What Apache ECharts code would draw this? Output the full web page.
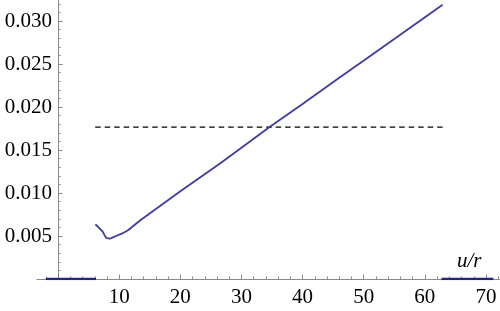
<!DOCTYPE html>
<html>
<head>
<meta charset="utf-8">
<script src="https://cdn.jsdelivr.net/npm/echarts@6/dist/echarts.min.js"></script>
<style>html,body{margin:0;padding:0;background:#fff}#c{width:500px;height:311px}</style>
</head>
<body>
<div id="c"></div>
<script>
// Curve data (u/r, value)
const curveU = [6.1, 6.5, 6.9, 7.3, 7.6, 7.85, 8.1, 8.4, 8.8, 9.5, 10.5, 11.5, 13.4, 20, 26.6, 34.6, 39.7, 46, 52.8, 62.9];
const curveV = [0.00634, 0.0061, 0.0058, 0.0055, 0.0051, 0.0048, 0.00468, 0.00468, 0.00478, 0.0050, 0.0053, 0.0057, 0.0068, 0.0102, 0.0135, 0.01767, 0.0202, 0.0234, 0.0268, 0.0319];
// Horizontal dashed reference line
const refU = [6.07, 62.9];
const refV = 0.01767;
// Segments lying on the axis (value 0)
const zeroSegA = [-2.0, 6.2];
const zeroSegB = [62.7, 71.2];
// Ticks
const xMajor = [0, 10, 20, 30, 40, 50, 60, 70];
const xLabels = [10, 20, 30, 40, 50, 60, 70];
const xMinor = [-2, 2, 4, 6, 8, 12, 14, 16, 18, 22, 24, 26, 28, 32, 34, 36, 38, 42, 44, 46, 48, 52, 54, 56, 58, 62, 64, 66, 68, 72];
const yMajor = [0.005, 0.010, 0.015, 0.020, 0.025, 0.030];
const yMinor = [0.001, 0.002, 0.003, 0.004, 0.006, 0.007, 0.008, 0.009, 0.011, 0.012, 0.013, 0.014, 0.016, 0.017, 0.018, 0.019, 0.021, 0.022, 0.023, 0.024, 0.026, 0.027, 0.028, 0.029, 0.031, 0.032];
const xName = 'u/r';

const XMIN = -3.45, XMAX = 72.29, YMIN = 0, YMAX = 0.03244;
const GRID_LEFT = 37, GRID_W = 463;
const yAxisOffset = -(0 - XMIN) / (XMAX - XMIN) * GRID_W; // move y axis to u = 0
const axisCol = '#8a8a8a';
const font = 'Liberation Serif';

const chart = echarts.init(document.getElementById('c'), null, {renderer: 'canvas'});
const baseX = {
  type: 'value', min: XMIN, max: XMAX, position: 'bottom',
  splitLine: {show: false}
};
const baseY = {
  type: 'value', min: YMIN, max: YMAX, position: 'left', offset: yAxisOffset,
  splitLine: {show: false}
};
chart.setOption({
  animation: false,
  grid: {left: GRID_LEFT, right: 0, top: 0, bottom: 32, containLabel: false, outerBoundsMode: 'none'},
  xAxis: [
    Object.assign({}, baseX, {
      axisLine: {show: true, onZero: false, lineStyle: {color: axisCol, width: 1}},
      axisTick: {show: true, inside: true, length: 4.5, customValues: xMajor, lineStyle: {color: axisCol}},
      axisLabel: {show: true, customValues: xLabels, margin: 8, color: '#000', fontFamily: font, fontSize: 21}
    }),
    Object.assign({}, baseX, {
      axisLine: {show: false, onZero: false},
      axisTick: {show: true, inside: true, length: 2.5, customValues: xMinor, lineStyle: {color: axisCol}},
      axisLabel: {show: false}
    })
  ],
  yAxis: [
    Object.assign({}, baseY, {
      axisLine: {show: true, onZero: false, lineStyle: {color: axisCol, width: 1}},
      axisTick: {show: true, inside: true, length: 4.5, customValues: yMajor, lineStyle: {color: axisCol}},
      axisLabel: {show: true, customValues: yMajor, margin: 6, color: '#000', fontFamily: font, fontSize: 21,
        formatter: v => v.toFixed(3)}
    }),
    Object.assign({}, baseY, {
      axisLine: {show: false, onZero: false},
      axisTick: {show: true, inside: true, length: 2.5, customValues: yMinor, lineStyle: {color: axisCol}},
      axisLabel: {show: false}
    })
  ],
  graphic: [{
    type: 'text', left: 457, top: 251,
    style: {text: xName, font: 'italic 21px "Liberation Serif"', fill: '#000'}
  }],
  series: [
    {type: 'line', xAxisIndex: 0, yAxisIndex: 0, showSymbol: false, symbol: 'none',
      data: [[zeroSegA[0], 0], [zeroSegA[1], 0], null, [zeroSegB[0], 0], [zeroSegB[1], 0]],
      connectNulls: false,
      lineStyle: {color: '#25257c', width: 2.6}},
    {type: 'line', xAxisIndex: 0, yAxisIndex: 0, showSymbol: false, symbol: 'none',
      data: refU.map(u => [u, refV]),
      lineStyle: {color: '#000', width: 1.2, type: [5.5, 4]}},
    {type: 'line', xAxisIndex: 0, yAxisIndex: 0, showSymbol: false, symbol: 'none', smooth: false,
      data: curveU.map((u, i) => [u, curveV[i]]),
      lineStyle: {color: '#3d3d9e', width: 1.8, join: 'round'}}
  ]
});
</script>
</body>
</html>
